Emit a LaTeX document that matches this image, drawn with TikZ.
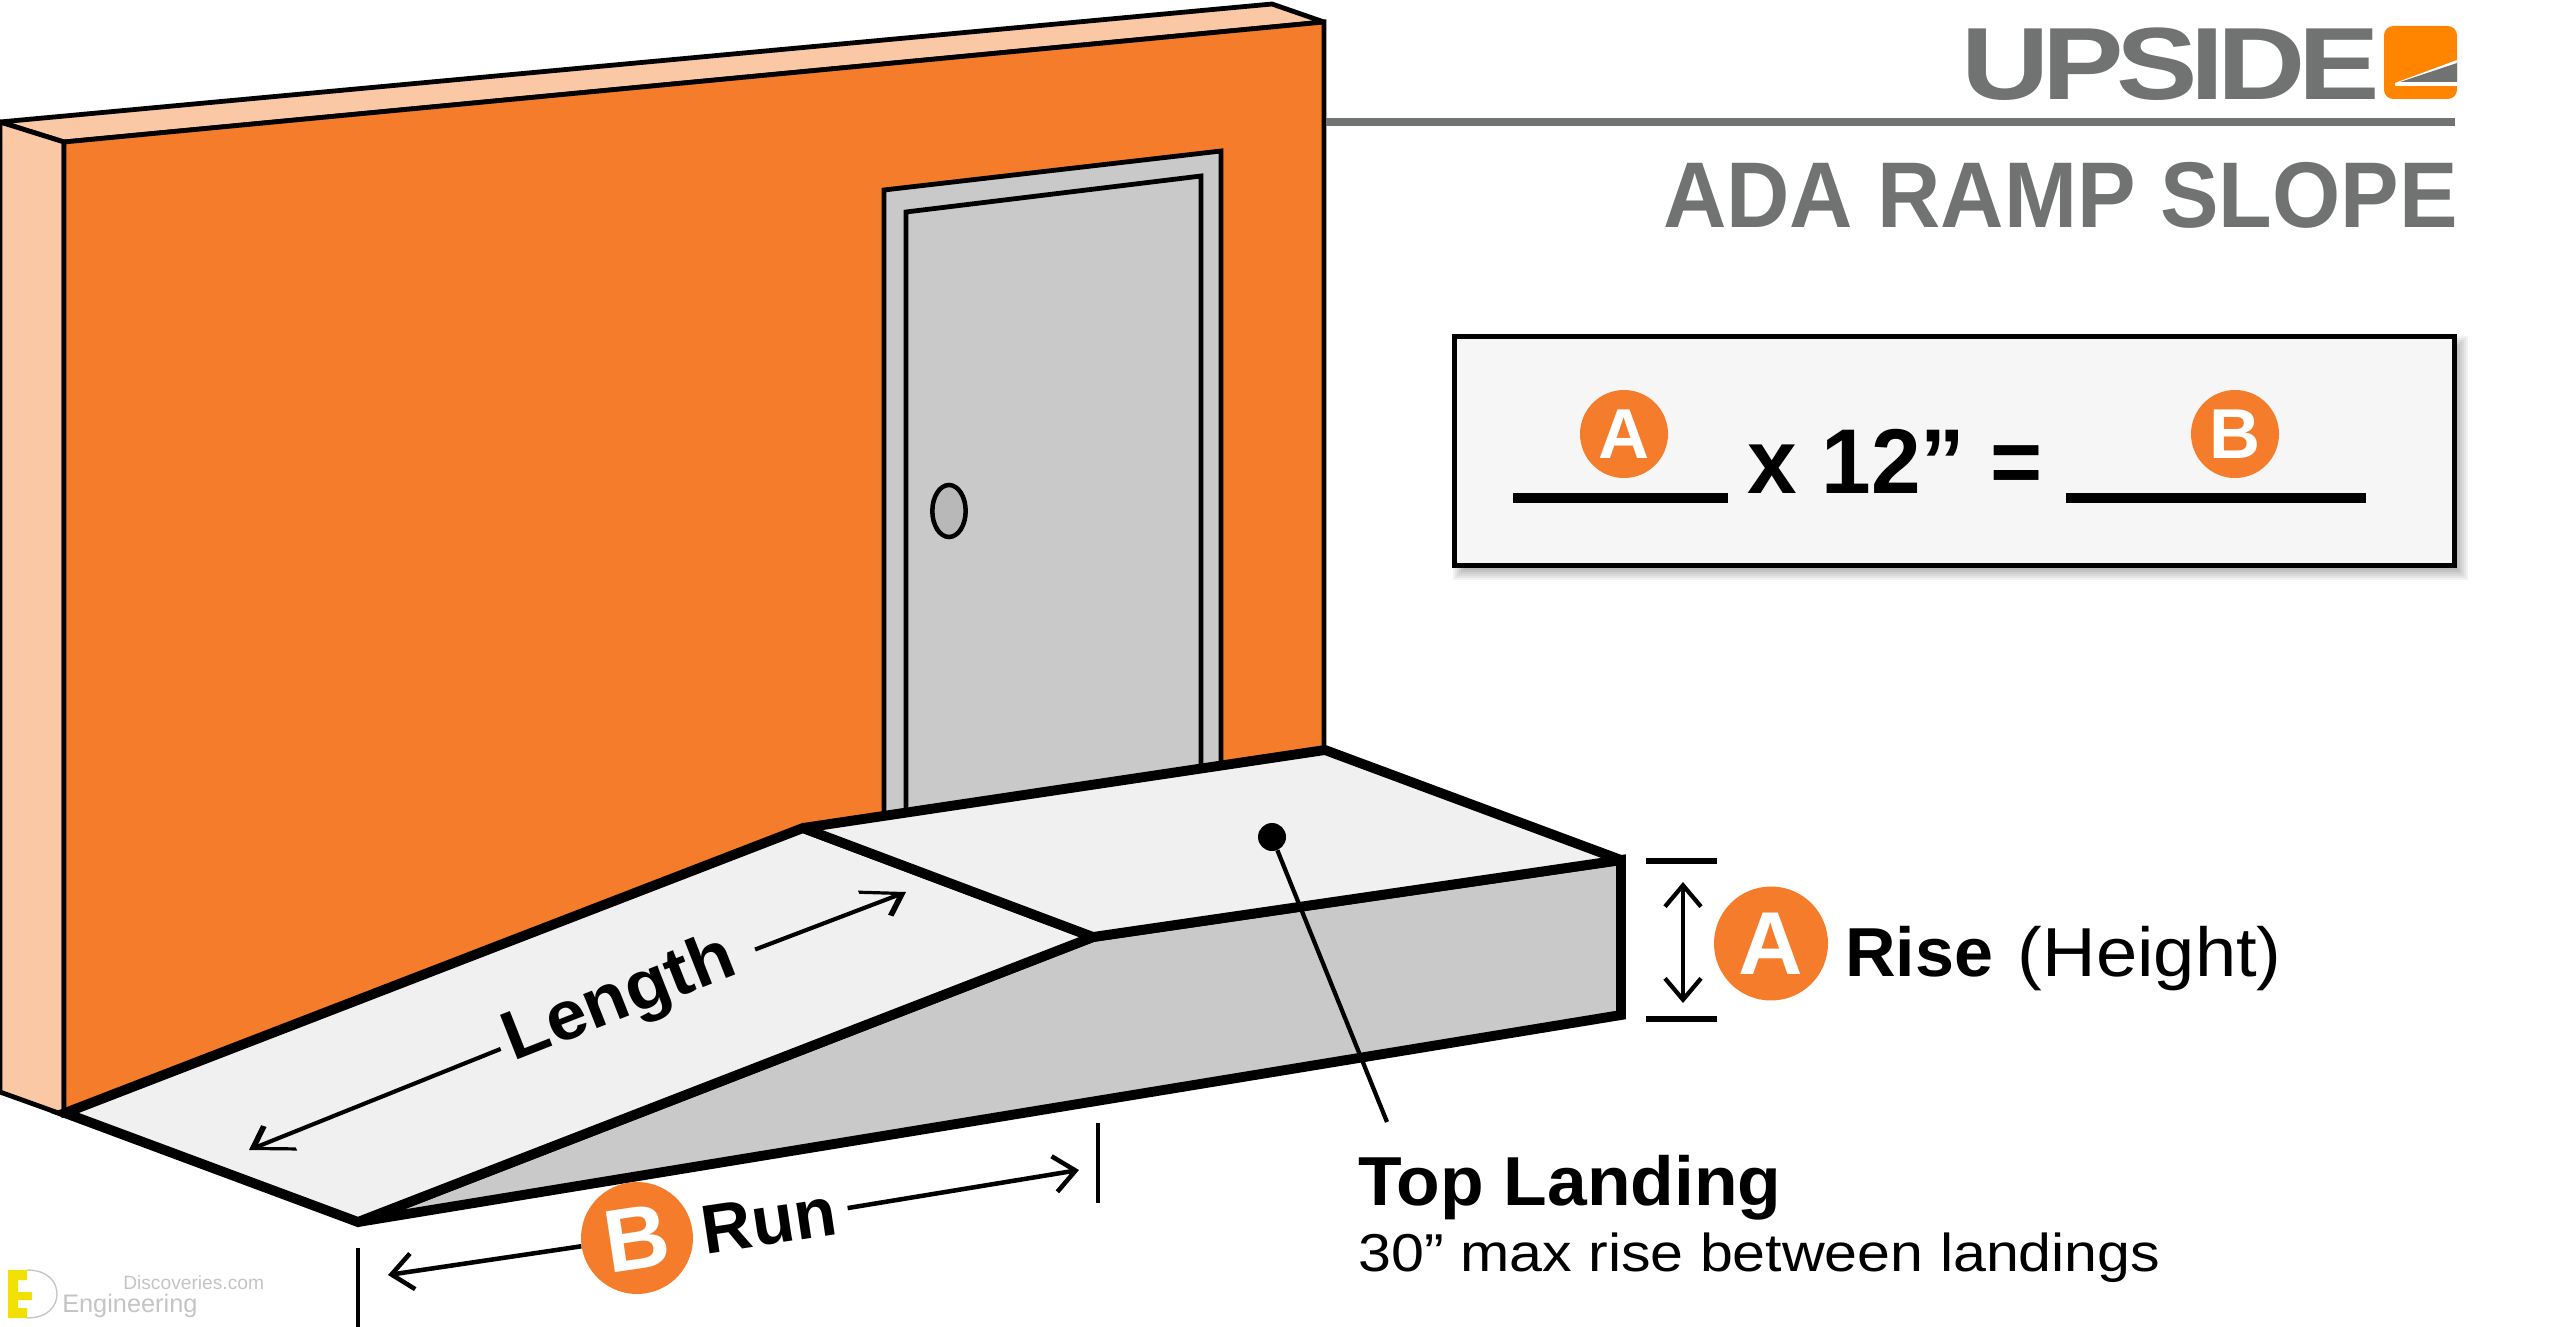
\documentclass[tikz,border=0pt]{standalone}
\usepackage{fontspec}
\setmainfont{Liberation Sans}
\newfontfamily\logofont[LetterSpace=-6]{Liberation Sans}
\usetikzlibrary{arrows.meta,shapes.geometric}

\definecolor{wallorange}{HTML}{F57C2B}
\definecolor{wallpale}{HTML}{FBC8A5}
\definecolor{doorgray}{HTML}{C9C9C9}
\definecolor{knobgray}{HTML}{B8B8B8}
\definecolor{slabgray}{HTML}{F0F0F0}
\definecolor{boxgray}{HTML}{F6F6F6}
\definecolor{titlegray}{HTML}{707372}
\definecolor{logoorange}{HTML}{FF8500}
\definecolor{markyellow}{HTML}{F2E000}
\definecolor{markgray}{HTML}{C4C4C4}

\tikzset{
  wallline/.style={draw=black,line width=3.6pt,line join=miter,miter limit=3},
  slabline/.style={draw=black,line width=7.4pt,line join=miter,miter limit=3},
  dimline/.style={line width=3.2pt,{Straight Barb[length=16pt,width=27pt]}-{Straight Barb[length=16pt,width=27pt]}},
  dimright/.style={line width=3.4pt,-{Straight Barb[length=16pt,width=27pt]}},
  slantright/.style={line width=3.1pt,-{Straight Barb[length=22pt,width=25pt,slant=-0.65]}},
  tickline/.style={line width=2.6pt},
  badge/.style={circle,fill=wallorange,text=white,inner sep=0pt,font=\fontsize{67}{70}\selectfont\bfseries},
  labelbold/.style={inner sep=0pt,font=\fontsize{52}{60}\selectfont\bfseries},
  labelthin/.style={inner sep=0pt,font=\fontsize{52}{60}\selectfont},
}

\begin{document}
\begin{tikzpicture}[x=0.75pt,y=0.75pt,yscale=-1,xscale=1]
        \useasboundingbox (0,0) rectangle (2560,1327);

        %Shape: Wall top
        \draw [wallline,fill=wallpale] (0,122) -- (1272,4) -- (1324,22) -- (64,142) -- cycle ;
        %Shape: Wall side
        \draw [wallline,fill=wallpale] (0,122) -- (64,142) -- (64,1115) -- (0,1092) -- cycle ;
        %Shape: Wall front
        \draw [wallline,fill=wallorange] (64,142) -- (1324,22) -- (1324,760) -- (64,1115) -- cycle ;

        %Shape: Door frame and leaf
        \draw [wallline,fill=doorgray] (884,190) -- (1221,151) -- (1221,800) -- (884,830) -- cycle ;
        \draw [wallline,fill=doorgray] (906,212) -- (1201,176) -- (1201,800) -- (906,830) -- cycle ;
        \draw (949,511) node (handle) [ellipse,draw=black,line width=3.4pt,fill=knobgray,minimum width=25pt,minimum height=39pt,inner sep=0pt] {} ;

        %Shape: Ramp surface, side and landing
        \draw [slabline,fill=doorgray] (358,1222) -- (1093,937) -- (1621,860) -- (1621,1015) -- cycle ;
        \draw [slabline,fill=slabgray] (65,1113) -- (803,828) -- (1093,937) -- (358,1222) -- cycle ;
        \draw [slabline,fill=slabgray] (803,828) -- (1325,750) -- (1621,860) -- (1093,937) -- cycle ;

        %Shape: Landing pointer
        \draw (1272,837) node (landingdot) [circle,fill=black,minimum size=21pt,inner sep=0pt] {} ;
        \coordinate (landingend) at (1387,1122) ;
        \draw [line width=3.2pt] (landingdot) -- (landingend) ;

        % Text Node
        \draw (1358,1205) node (toplanding) [anchor=base west,labelbold,xscale=1.03] {Top Landing} ;
        % Text Node
        \draw (1358,1271) node (maxrise) [anchor=base west,inner sep=0pt,xscale=1.109,font=\fontsize{40}{48}\selectfont] {30” max rise between landings} ;

        %Shape: Rise dimension
        \coordinate (risetopleft) at (1646,861) ; \coordinate (risetopright) at (1717,861) ;
        \coordinate (risebotleft) at (1646,1019) ; \coordinate (risebotright) at (1717,1019) ;
        \coordinate (risehi) at (1683,882) ; \coordinate (riselo) at (1683,1003) ;
        \draw [line width=3.8pt] (risetopleft) -- (risetopright) ;
        \draw [line width=3.8pt] (risebotleft) -- (risebotright) ;
        \draw [dimline] (risehi) -- (riselo) ;
        \draw (1771,943.5) node (badgerise) [badge,minimum size=85.5pt] {A} ;
        % Text Node
        \draw (1845,976.5) node (riselabel) [anchor=base west,labelbold,xscale=1.01] {Rise} ;
        % Text Node
        \draw (2282,976.5) node (heightlabel) [anchor=base east,labelthin,xscale=1.07] {(Height)} ;

        %Shape: Length dimension
        \draw (620,1001) node (lengthlabel) [labelbold,rotate=21.5,inner sep=5pt,xscale=1.05] {Length} ;
        \coordinate (lengthlo) at (249,1150) ;
        \coordinate (lengthhi) at (906,892) ;
        \draw [slantright] (lengthlabel) -- (lengthlo) ;
        \draw [slantright,shorten <=12pt] (lengthlabel) -- (lengthhi) ;

        %Shape: Run dimension
        \draw (637,1238) node (badgerun) [badge,minimum size=84pt,rotate=8.5] {B} ;
        \draw (769,1221) node (runlabel) [labelbold,rotate=8.5,inner sep=9pt] {Run} ;
        \coordinate (runlo) at (388,1275) ;
        \coordinate (runhi) at (1079,1170) ;
        \draw [dimright] (badgerun) -- (runlo) ;
        \draw [dimright] (runlabel) -- (runhi) ;
        \coordinate (runticklotop) at (358,1248) ; \coordinate (runticklobot) at (358,1330) ;
        \coordinate (runtickhitop) at (1098,1123) ; \coordinate (runtickhibot) at (1098,1203) ;
        \draw [tickline] (runticklotop) -- (runticklobot) ;
        \draw [tickline] (runtickhitop) -- (runtickhibot) ;

        %Shape: Logo and title
        \draw (1961,100) node (logotext) [anchor=base west,inner sep=0pt,text=titlegray,xscale=1.19,font=\logofont\fontsize{77}{80}\selectfont\bfseries] {UPSIDE} ;
        \draw [fill=logoorange,draw=none,rounded corners=7pt] (2384,26) rectangle (2457,99) ;
        \fill [white] (2395,83) -- (2457,60) -- (2457,86) -- (2395,86) -- cycle ;
        \fill [titlegray] (2400,82) -- (2457,63) -- (2457,82) -- cycle ;
        \coordinate (rulefrom) at (1326,122) ; \coordinate (ruleto) at (2455,122) ;
        \draw [line width=6pt,titlegray] (rulefrom) -- (ruleto) ;
        % Text Node
        \draw (2458,228) node (titletext) [anchor=base east,inner sep=0pt,text=titlegray,xscale=0.94,font=\fontsize{70}{80}\selectfont\bfseries] {ADA RAMP SLOPE} ;

        %Shape: Formula box with soft shadow
        \foreach \s in {0,2,...,14}
          \fill [black,opacity=0.05] (1453+\s,336+\s) rectangle (2468-\s,580-\s) ;
        \draw (1954.5,451) node (formulabox) [draw=black,line width=3.4pt,fill=boxgray,minimum width=750pt,minimum height=172pt] {} ;
        \coordinate (blankafrom) at (1513,498) ; \coordinate (blankato) at (1728,498) ;
        \coordinate (blankbfrom) at (2066,498) ; \coordinate (blankbto) at (2366,498) ;
        \draw [line width=8pt] (blankafrom) -- (blankato) ;
        \draw [line width=8pt] (blankbfrom) -- (blankbto) ;
        \draw (1624,434) node (badgeblanka) [badge,minimum size=66pt,font=\fontsize{53}{60}\selectfont\bfseries] {A} ;
        \draw (2235,434) node (badgeblankb) [badge,minimum size=66pt,font=\fontsize{53}{60}\selectfont\bfseries] {B} ;
        % Text Node
        \draw (1895,493) node (formulatext) [anchor=base,inner sep=0pt,xscale=0.97,font=\fontsize{69}{80}\selectfont\bfseries] {x 12” =} ;

        %Shape: Watermark
        \fill [markyellow] (8,1270) -- (27,1270) -- (27,1280) -- (18,1280) -- (18,1292) -- (32,1292) -- (32,1300) -- (18,1300) -- (18,1308) -- (27,1308) -- (27,1318) -- (8,1318) -- cycle ;
        \draw [markgray,line width=1pt] (27,1270) .. controls (48,1270) and (57,1282) .. (57,1294) .. controls (57,1306) and (48,1318) .. (27,1318) ;
        % Text Node
        \draw (123,1289) node (markdisc) [anchor=base west,inner sep=0pt,text=markgray,font=\fontsize{14.4}{18}\selectfont] {Discoveries.com} ;
        % Text Node
        \draw (62,1312) node (markeng) [anchor=base west,inner sep=0pt,text=markgray,font=\fontsize{19}{22}\selectfont] {Engineering} ;
\end{tikzpicture}
\end{document}
